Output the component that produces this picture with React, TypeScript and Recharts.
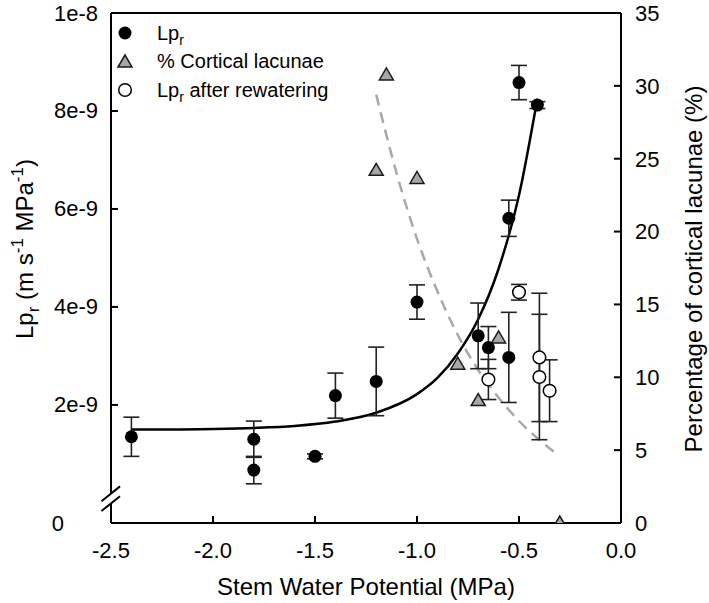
import React from 'react';
import {
  ComposedChart,
  Scatter,
  Line,
  XAxis,
  YAxis,
  ErrorBar,
  ReferenceLine,
  ReferenceDot,
  Legend,
} from 'recharts';

// Lpr (m s-1 MPa-1) against stem water potential (MPa), with SE
const lprX = [-2.4, -1.8, -1.8, -1.5, -1.4, -1.2, -1.0, -0.7, -0.65, -0.55, -0.55, -0.5, -0.41];
const lprY = [1.35e-9, 1.3e-9, 0.67e-9, 0.95e-9, 2.19e-9, 2.48e-9, 4.1e-9, 3.41e-9, 3.17e-9, 2.97e-9, 5.81e-9, 8.58e-9, 8.12e-9];
const lprErr = [0.4e-9, 0.37e-9, 0.28e-9, 0.05e-9, 0.46e-9, 0.7e-9, 0.35e-9, 0.67e-9, 0.43e-9, 0.92e-9, 0.37e-9, 0.35e-9, 0.07e-9];

// Lpr after rewatering
const rewX = [-0.65, -0.5, -0.4, -0.4, -0.35];
const rewY = [2.52e-9, 4.3e-9, 2.97e-9, 2.57e-9, 2.29e-9];
const rewErr = [0.41e-9, 0.16e-9, 1.31e-9, 1.28e-9, 0.63e-9];

// % cortical lacunae (right axis)
const lacX = [-1.2, -1.15, -1.0, -0.8, -0.7, -0.6, -0.3];
const lacY = [24.2, 30.75, 23.65, 10.9, 8.4, 12.7, 0];

// fitted curves
const lprFitX = [-2.4, -2.2, -2.0, -1.8, -1.6, -1.4, -1.2, -1.0, -0.9, -0.8, -0.7, -0.6, -0.5, -0.41];
const lprFitY = [1.5e-9, 1.5e-9, 1.51e-9, 1.53e-9, 1.57e-9, 1.66e-9, 1.84e-9, 2.22e-9, 2.55e-9, 3.05e-9, 3.75e-9, 4.78e-9, 6.28e-9, 8.25e-9];
const lacFitX = [-1.2, -1.1, -1.0, -0.9, -0.8, -0.7, -0.6, -0.5, -0.4, -0.33];
const lacFitY = [29.4, 24.0, 19.5, 15.9, 12.9, 10.5, 8.6, 7.0, 5.7, 4.9];

const xTicks = [-2.5, -2.0, -1.5, -1.0, -0.5, 0.0];
const leftMin = -0.41e-9; // broken axis: bottom of the left axis is labelled 0
const leftTicks = [leftMin, 2e-9, 4e-9, 6e-9, 8e-9, 1e-8];
const leftTickLabels = ['0', '2e-9', '4e-9', '6e-9', '8e-9', '1e-8'];
const rightTicks = [0, 5, 10, 15, 20, 25, 30, 35];
const breakAt = 0.09e-9;

const FONT = '"Liberation Sans", Arial, Helvetica, sans-serif';

const lprData = lprX.map((x, i) => ({ x, y: lprY[i], err: lprErr[i] }));
const rewData = rewX.map((x, i) => ({ x, y: rewY[i], err: rewErr[i] }));
const lacData = lacX.map((x, i) => ({ x, y: lacY[i] }));
const lprFit = lprFitX.map((x, i) => ({ x, y: lprFitY[i] }));
const lacFit = lacFitX.map((x, i) => ({ x, y: lacFitY[i] }));

const FilledDot = (props: any) => <circle cx={props.cx} cy={props.cy} r={6.5} fill="#000" />;
const OpenDot = (props: any) => (
  <circle cx={props.cx} cy={props.cy} r={6.3} fill="#fff" stroke="#000" strokeWidth={1.5} />
);
const Tri = (props: any) => {
  const { cx, cy } = props;
  return (
    <polygon
      points={`${cx},${cy - 7} ${cx - 7},${cy + 5} ${cx + 7},${cy + 5}`}
      fill="#a8a8a8"
      stroke="#1a1a1a"
      strokeWidth={1.5}
    />
  );
};

const BreakMark = (props: any) => {
  const { cx, cy } = props;
  return (
    <g>
      <rect x={cx - 3} y={cy - 4.5} width={6} height={9} fill="#fff" />
      <line x1={cx - 9.5} y1={cy + 2.7} x2={cx + 9} y2={cy - 12.1} stroke="#000" strokeWidth={2} />
      <line x1={cx - 9.5} y1={cy + 12.5} x2={cx + 9} y2={cy - 2.3} stroke="#000" strokeWidth={2} />
    </g>
  );
};

const LeftTick = (props: any) => {
  const { x, y, payload } = props;
  const i = leftTicks.indexOf(payload.value);
  const label = i >= 0 ? leftTickLabels[i] : '';
  return (
    <text
      x={i === 0 ? x - 34 : x}
      y={y}
      textAnchor="end"
      dominantBaseline="central"
      fontFamily={FONT}
      fontSize={22}
      fill="#000"
    >
      {label}
    </text>
  );
};

const XTitle = (props: any) => {
  const { x, y, width } = props.viewBox;
  return (
    <text x={x + width / 2} y={y + 72} textAnchor="middle" fontFamily={FONT} fontSize={24} fill="#000">
      Stem Water Potential (MPa)
    </text>
  );
};

const LeftTitle = (props: any) => {
  const { x, y } = props.viewBox;
  const tx = x + 33;
  const ty = y + 236;
  return (
    <text
      x={tx}
      y={ty}
      textAnchor="middle"
      transform={`rotate(-90, ${tx}, ${ty})`}
      fontFamily={FONT}
      fontSize={24}
      fill="#000"
    >
      Lp
      <tspan fontSize={17} dy={6}>r</tspan>
      <tspan dy={-6}> (m s</tspan>
      <tspan fontSize={17} dy={-10}>-1</tspan>
      <tspan dy={10}> MPa</tspan>
      <tspan fontSize={17} dy={-10}>-1</tspan>
      <tspan dy={10}>)</tspan>
    </text>
  );
};

const RightTitle = (props: any) => {
  const { x, y } = props.viewBox;
  const tx = x + 81;
  const ty = y + 256;
  return (
    <text
      x={tx}
      y={ty}
      textAnchor="middle"
      transform={`rotate(-90, ${tx}, ${ty})`}
      fontFamily={FONT}
      fontSize={24}
      fill="#000"
    >
      Percentage of cortical lacunae (%)
    </text>
  );
};

const legendRows = [
  { key: 'lpr', marker: <circle cx={13} cy={14} r={6.5} fill="#000" /> },
  {
    key: 'lac',
    marker: <polygon points="13,7 6,19 20,19" fill="#a8a8a8" stroke="#1a1a1a" strokeWidth={1.5} />,
  },
  { key: 'rew', marker: <circle cx={13} cy={14} r={6.3} fill="#fff" stroke="#000" strokeWidth={1.5} /> },
];

const Sub = ({ children }: { children: React.ReactNode }) => (
  <span style={{ fontSize: 14, position: 'relative', top: 5 }}>{children}</span>
);

const LegendBox = () => (
  <div style={{ fontFamily: FONT, fontSize: 20, color: '#000' }}>
    {legendRows.map((row) => (
      <div key={row.key} style={{ display: 'flex', alignItems: 'center', height: 28.5 }}>
        <svg width={45} height={28}>{row.marker}</svg>
        <span style={{ whiteSpace: 'nowrap' }}>
          {row.key === 'lpr' && (
            <>
              Lp<Sub>r</Sub>
            </>
          )}
          {row.key === 'lac' && '% Cortical lacunae'}
          {row.key === 'rew' && (
            <>
              Lp<Sub>r</Sub> after rewatering
            </>
          )}
        </span>
      </div>
    ))}
  </div>
);

const axisLine = { stroke: '#000', strokeWidth: 2 };
const tickLine = { stroke: '#000', strokeWidth: 2 };

export default function App() {
  return (
    <div style={{ position: 'absolute', left: 0, top: 0, background: '#fff' }}>
      <ComposedChart width={709} height={603} margin={{ top: 13, right: 0, bottom: 0, left: 0 }}>
        <XAxis
          type="number"
          dataKey="x"
          domain={[-2.5, 0]}
          ticks={xTicks}
          tickFormatter={(v: number) => v.toFixed(1)}
          height={80}
          axisLine={axisLine}
          tickLine={tickLine}
          tickSize={-7}
          tickMargin={26}
          tick={{ fill: '#000', fontSize: 22, fontFamily: FONT }}
          label={<XTitle />}
          allowDataOverflow
        />
        <YAxis
          yAxisId="left"
          type="number"
          dataKey="y"
          domain={[leftMin, 1e-8]}
          ticks={leftTicks}
          width={111}
          axisLine={axisLine}
          tickLine={tickLine}
          tickSize={-7}
          tickMargin={20}
          tick={<LeftTick />}
          label={<LeftTitle />}
          allowDataOverflow
        />
        <YAxis
          yAxisId="right"
          orientation="right"
          type="number"
          dataKey="y"
          domain={[0, 35]}
          ticks={rightTicks}
          width={88}
          axisLine={axisLine}
          tickLine={tickLine}
          tickSize={-7}
          tickMargin={21}
          tick={{ fill: '#000', fontSize: 22, fontFamily: FONT }}
          label={<RightTitle />}
          allowDataOverflow
        />
        <ReferenceLine y={1e-8} yAxisId="left" stroke="#000" strokeWidth={2} ifOverflow="visible" />
        <ReferenceDot
          x={-2.5}
          y={breakAt}
          yAxisId="left"
          ifOverflow="visible"
          shape={(p: any) => <BreakMark {...p} />}
        />
        <Line
          data={lacFit}
          dataKey="y"
          yAxisId="right"
          type="monotone"
          stroke="#a8a8a8"
          strokeWidth={2.5}
          strokeDasharray="11 7"
          dot={false}
          activeDot={false}
          legendType="none"
          isAnimationActive={false}
        />
        <Line
          data={lprFit}
          dataKey="y"
          yAxisId="left"
          type="monotone"
          stroke="#000"
          strokeWidth={2.5}
          dot={false}
          activeDot={false}
          legendType="none"
          isAnimationActive={false}
        />
        <Scatter data={lacData} yAxisId="right" shape={Tri} isAnimationActive={false} />
        <Scatter data={lprData} yAxisId="left" shape={FilledDot} isAnimationActive={false}>
          <ErrorBar dataKey="err" direction="y" width={8} stroke="#222" strokeWidth={1.6} />
        </Scatter>
        <Scatter data={rewData} yAxisId="left" shape={OpenDot} isAnimationActive={false}>
          <ErrorBar dataKey="err" direction="y" width={8} stroke="#222" strokeWidth={1.6} />
        </Scatter>
        <Legend
          layout="vertical"
          align="center"
          verticalAlign="middle"
          wrapperStyle={{ position: 'absolute', top: 19, left: 112, width: 'auto', height: 'auto' }}
          content={() => <LegendBox />}
        />
      </ComposedChart>
    </div>
  );
}
